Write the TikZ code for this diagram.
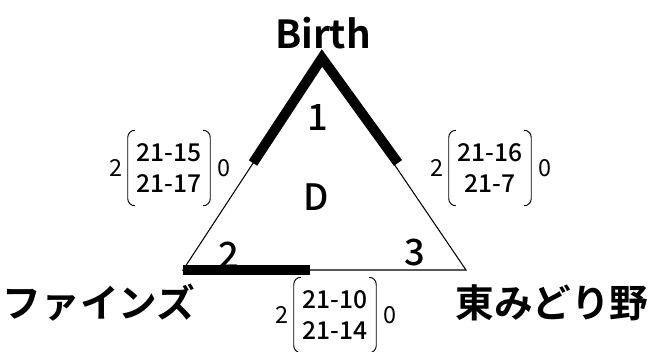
\documentclass[tikz,border=0pt]{standalone}
\usepackage{fontspec}
\setmainfont{Noto Sans CJK JP}[BoldFont={Noto Sans CJK JP Medium}]
\newfontfamily\heavyjp{Noto Sans CJK JP Bold}
\usetikzlibrary{positioning}

\begin{document}
\begin{tikzpicture}[
    x=0.03cm, y=-0.03cm,
    big/.style={font=\bfseries\fontsize{31}{31}\selectfont, inner sep=0pt},
    place/.style={font=\heavyjp\fontsize{33}{33}\selectfont, inner sep=0pt},
    mat/.style={font=\bfseries\fontsize{21}{27}\selectfont, align=center, inner sep=0pt, minimum width=2.46cm, minimum height=2.25cm},
    side/.style={font=\fontsize{20}{20}\selectfont, inner sep=0pt},
    paren/.style={line width=0.8pt, rounded corners=6pt},
    edge/.style={line width=0.9pt},
    heavy/.style={line width=8.5pt, line join=miter}
]
\useasboundingbox (0,0) rectangle (659,351);

% Triangle corners
\coordinate (top) at (322,58);
\coordinate (bl) at (183,270);
\coordinate (br) at (466,270);
\coordinate (tl) at (253,163);
\coordinate (tr) at (398,163);
\coordinate (bm) at (310,270);

% Triangle
\draw[edge] (top) -- (bl) -- (br) -- cycle;
\draw[heavy] (tl) -- (top) -- (tr);
\draw[heavy] (bl) -- (bm);

% Labels
\node[place] (birth) at (323,33) {Birth};
\node[big] (one) at (318,117) {1};
\node[big] (dd) at (316,197) {D};
\node[big] (two) at (229,255) {2};
\node[big] (three) at (415,252) {3};
\node[place] (fines) at (99,303) {ファインズ};
\node[place] (midori) at (552,303) {東みどり野};

% Matrices
\node[mat] (m1) at (169,168) {21-15\\21-17};
\node[mat] (m2) at (490,168) {21-16\\21-7};
\node[mat] (m3) at (335,315) {21-10\\21-14};

\foreach \m in {m1,m2,m3} {
  \draw[paren] ([xshift=6pt]\m.north west) -- (\m.north west) -- (\m.south west) -- ([xshift=6pt]\m.south west);
  \draw[paren] ([xshift=-6pt]\m.north east) -- (\m.north east) -- (\m.south east) -- ([xshift=-6pt]\m.south east);
  \node[side, left=4pt of \m] (\m l) {2};
  \node[side, right=6pt of \m] (\m r) {0};
}

\end{tikzpicture}
\end{document}
